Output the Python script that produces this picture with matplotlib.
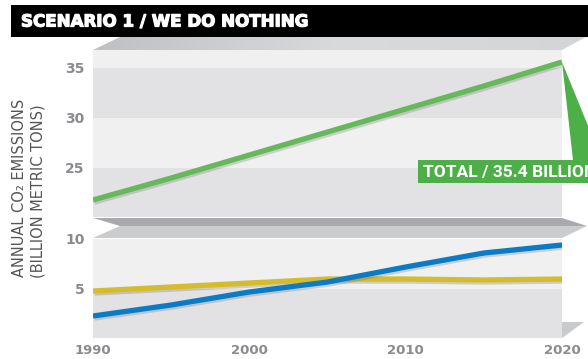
import numpy as np
import matplotlib
matplotlib.use("Agg")
import matplotlib.pyplot as plt
from matplotlib.patches import Polygon, Rectangle
import matplotlib.patheffects as pe

years = [1990, 1995, 2000, 2005, 2010, 2015, 2020]
total = [21.8, 24.0, 26.3, 28.6, 30.9, 33.2, 35.6]
blue_series = [2.3, 3.4, 4.7, 5.7, 7.2, 8.6, 9.4]
yellow_series = [4.8, 5.2, 5.6, 6.0, 6.0, 5.9, 6.0]
year_ticks = [1990, 2000, 2010, 2020]
upper_ticks = [25, 30, 35]
lower_ticks = [5, 10]

W, H = 588, 359
fig = plt.figure(figsize=(W / 100, H / 100), dpi=100)


def box(x0, y0, x1, y1):
    # pixel box (top-left origin) -> figure fraction rect
    return [x0 / W, 1 - y1 / H, (x1 - x0) / W, (y1 - y0) / H]


light = "#f0f0f1"
dark = "#e2e2e4"
tick_col = "#8b8b8f"
shadow = [pe.SimpleLineShadow(offset=(1, -1.5), shadow_color="#666666", alpha=0.25), pe.Normal()]

ax_top = fig.add_axes(box(93, 50, 562, 217))
ax_bot = fig.add_axes(box(93, 239, 562, 338))

ax_top.set_ylim(20.1, 36.8)
ax_bot.set_ylim(0.1, 10)
for ax in (ax_top, ax_bot):
    ax.set_xlim(1990, 2020)
    for s in ax.spines.values():
        s.set_visible(False)
    ax.tick_params(length=0, labelsize=10, labelcolor=tick_col, pad=6)

ax_top.axhspan(20.1, 25, color=dark, lw=0)
ax_top.axhspan(25, 30, color=light, lw=0)
ax_top.axhspan(30, 35, color=dark, lw=0)
ax_top.axhspan(35, 36.8, color=light, lw=0)
ax_bot.axhspan(0.1, 5, color=dark, lw=0)
ax_bot.axhspan(5, 10, color=light, lw=0)

ax_top.plot(years, total, color="#66b95a", lw=3.8, solid_capstyle="butt", path_effects=shadow)
ax_bot.plot(years, yellow_series, color="#d4bc2c", lw=3.8, solid_capstyle="butt", path_effects=shadow)
ax_bot.plot(years, blue_series, color="#0a7cc6", lw=3.8, solid_capstyle="butt", path_effects=shadow)

ax_top.set_xticks([])
ax_top.set_yticks(upper_ticks)
ax_bot.set_yticks(lower_ticks)
ax_bot.set_xticks(year_ticks)
ax_bot.set_xticklabels([str(y) for y in year_ticks], fontsize=9.5, fontweight="bold", color=tick_col)
ax_bot.tick_params(axis="x", pad=4.5)
for ax in (ax_top, ax_bot):
    for lab in ax.get_yticklabels():
        lab.set_fontweight("bold")

# overlay in pixel coordinates for the decorative pieces
ov = fig.add_axes([0, 0, 1, 1], zorder=10)
ov.set_xlim(0, W)
ov.set_ylim(H, 0)
ov.axis("off")
ov.patch.set_alpha(0)

# title bar
ov.add_patch(Rectangle((11, 5), W - 11, 32, color="black", lw=0))
ov.text(21, 21.5, "SCENARIO 1 / WE DO NOTHING", color="white", fontsize=12,
        fontweight="heavy", va="center", ha="left",
        path_effects=[pe.withStroke(linewidth=0.9, foreground="white")])

# top face with gradient
top_face = Polygon([(120, 37), (586, 37), (562, 50), (93, 50)], closed=True, lw=0, fc="none")
ov.add_patch(top_face)
grad = np.linspace(0, 1, 256).reshape(1, -1)
im = ov.imshow(grad, extent=(93, 588, 50, 37), cmap=matplotlib.colors.LinearSegmentedColormap.from_list(
    "g", ["#bfc0c3", "#d9dadc", "#d4d5d7"]), aspect="auto", zorder=1)
im.set_clip_path(top_face)

# axis break
ov.add_patch(Polygon([(93, 218), (562, 218), (587, 226), (120, 226)], closed=True, fc="#a9aaad", lw=0))
ov.add_patch(Polygon([(120, 226), (587, 226), (562, 238), (93, 238)], closed=True, fc="#caccce", lw=0))

# bottom right face
ov.add_patch(Polygon([(562, 322), (584, 322), (562, 338)], closed=True, fc="#c9cacc", lw=0))

# callout for the total
fig.canvas.draw()
px = ax_top.transData.transform((years[-1], total[-1]))
ex, ey = ov.transData.inverted().transform(px)
green = "#4caf47"
ov.add_patch(Polygon([(ex, ey), (ex + 11, 160), (ex + 40, 160)], closed=True, fc=green, lw=0))
ov.add_patch(Rectangle((418, 160), 200, 23, fc=green, lw=0))
ov.text(423, 172, "TOTAL / 35.4 BILLION", color="white", fontsize=12.5, family="Roboto",
        fontweight="bold", va="center", ha="left")

# y axis label
ov.text(20, 188, "ANNUAL CO\u2082 EMISSIONS", rotation=90, ha="center", va="center",
        fontsize=10.5, color="#555555")
ov.text(38, 191, "(BILLION METRIC TONS)", rotation=90, ha="center", va="center",
        fontsize=10.5, color="#555555")

fig.savefig("out.png", dpi=100)
